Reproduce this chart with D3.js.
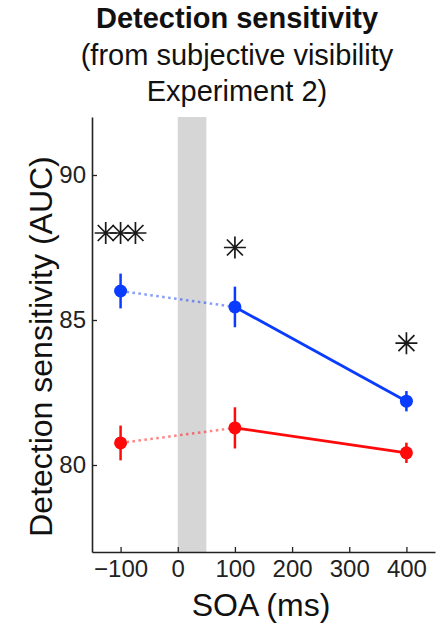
<!DOCTYPE html>
<html>
<head>
<meta charset="utf-8">
<script src="https://cdn.jsdelivr.net/npm/d3@7/dist/d3.min.js"></script>
<style>
  html, body { margin: 0; padding: 0; background: #fff; }
  svg { display: block; font-family: "Liberation Sans", Arial, Helvetica, sans-serif; }
</style>
</head>
<body>
<svg id="chart" width="444" height="625"></svg>
<script>
// SOA conditions (ms) and detection AUC (%) per condition
const soa = [-100, 100, 400];
const blueAUC = [86.0, 85.45, 82.2];
const blueErr = [0.6, 0.7, 0.35];
const redAUC = [80.76, 81.28, 80.42];
const redErr = [0.6, 0.71, 0.35];

// significance asterisks
const starX = [-126, -100, -74, 100, 400];
const starY = [88.0, 88.0, 88.0, 87.5, 84.2];

// target presentation window (ms)
const bandRange = [0, 50];

const xTicks = [-100, 0, 100, 200, 300, 400];
const yTicks = [80, 85, 90];
const titleLines = ["Detection sensitivity", "(from subjective visibility", "Experiment 2)"];

const svg = d3.select("#chart");
const plotL = 92, plotR = 435, plotT = 117, plotB = 552;

const x = d3.scaleLinear().domain([-150, 450]).range([plotL, plotR]);
const y = d3.scaleLinear().domain([77, 92]).range([plotB, plotT]);

// title
svg.append("g").selectAll("text").data(titleLines).join("text")
  .attr("x", 237)
  .attr("y", (d, i) => 28 + i * 36.5)
  .attr("text-anchor", "middle")
  .attr("font-size", 29)
  .attr("font-weight", (d, i) => i === 0 ? "bold" : "normal")
  .attr("fill", "#111")
  .text(d => d);

// grey band
svg.append("rect")
  .attr("x", x(bandRange[0]))
  .attr("width", x(bandRange[1]) - x(bandRange[0]))
  .attr("y", plotT)
  .attr("height", plotB - plotT)
  .attr("fill", "#d6d6d6");

// axes
const xAxis = d3.axisBottom(x).tickValues(xTicks).tickSizeInner(-5).tickSizeOuter(0).tickPadding(8)
  .tickFormat(d3.format("d"));
const yAxis = d3.axisLeft(y).tickValues(yTicks).tickSizeInner(-5).tickSizeOuter(0).tickPadding(6);

const gx = svg.append("g").attr("transform", `translate(0,${plotB})`).call(xAxis);
const gy = svg.append("g").attr("transform", `translate(${plotL},0)`).call(yAxis);
[gx, gy].forEach(g => {
  g.select(".domain").attr("stroke", "#222").attr("stroke-width", 1.6);
  g.selectAll(".tick line").attr("stroke", "#222").attr("stroke-width", 1.3);
  g.selectAll(".tick text").attr("font-size", 24).attr("fill", "#222")
    .attr("font-family", "'Liberation Sans', Arial, sans-serif");
});
gx.selectAll(".tick text").attr("dy", "0.71em");

// axis titles
svg.append("text")
  .attr("x", 261).attr("y", 616)
  .attr("text-anchor", "middle")
  .attr("font-size", 32).attr("fill", "#111")
  .text("SOA (ms)");
svg.append("text")
  .attr("transform", `translate(52,${(plotT + plotB) / 2 + 12}) rotate(-90)`)
  .attr("text-anchor", "middle")
  .attr("font-size", 32).attr("fill", "#111")
  .text("Detection sensitivity (AUC)");

// series
const series = [
  { color: "#0a3cff", vals: blueAUC, errs: blueErr },
  { color: "#ff0a0a", vals: redAUC, errs: redErr }
];
const line = d3.line().x(d => x(d[0])).y(d => y(d[1]));

series.forEach(s => {
  const pts = soa.map((t, i) => [t, s.vals[i], s.errs[i]]);
  const g = svg.append("g");
  // dotted link across the target window
  g.append("path")
    .attr("d", line(pts.slice(0, 2)))
    .attr("fill", "none").attr("stroke", s.color).attr("stroke-opacity", 0.5)
    .attr("stroke-width", 2.5).attr("stroke-dasharray", "2.5,3.5");
  // solid segment for positive SOAs
  g.append("path")
    .attr("d", line(pts.slice(1)))
    .attr("fill", "none").attr("stroke", s.color).attr("stroke-width", 2.8);
  // error bars
  g.selectAll("line.err").data(pts).join("line")
    .attr("class", "err")
    .attr("x1", d => x(d[0])).attr("x2", d => x(d[0]))
    .attr("y1", d => y(d[1] - d[2])).attr("y2", d => y(d[1] + d[2]))
    .attr("stroke", s.color).attr("stroke-width", 2.5);
  // means
  g.selectAll("circle").data(pts).join("circle")
    .attr("cx", d => x(d[0])).attr("cy", d => y(d[1]))
    .attr("r", 6.5).attr("fill", s.color);
});

// asterisks
const star = svg.append("g").attr("stroke", "#1a1a1a").attr("stroke-width", 1.7).attr("fill", "none");
starX.forEach((sx, i) => {
  const cx = x(sx), cy = y(starY[i]);
  const a = 11, b = 8;
  star.append("path").attr("d",
    `M${cx - a},${cy}H${cx + a}M${cx},${cy - a}V${cy + a}` +
    `M${cx - b},${cy - b}L${cx + b},${cy + b}M${cx - b},${cy + b}L${cx + b},${cy - b}`);
});
</script>
</body>
</html>
